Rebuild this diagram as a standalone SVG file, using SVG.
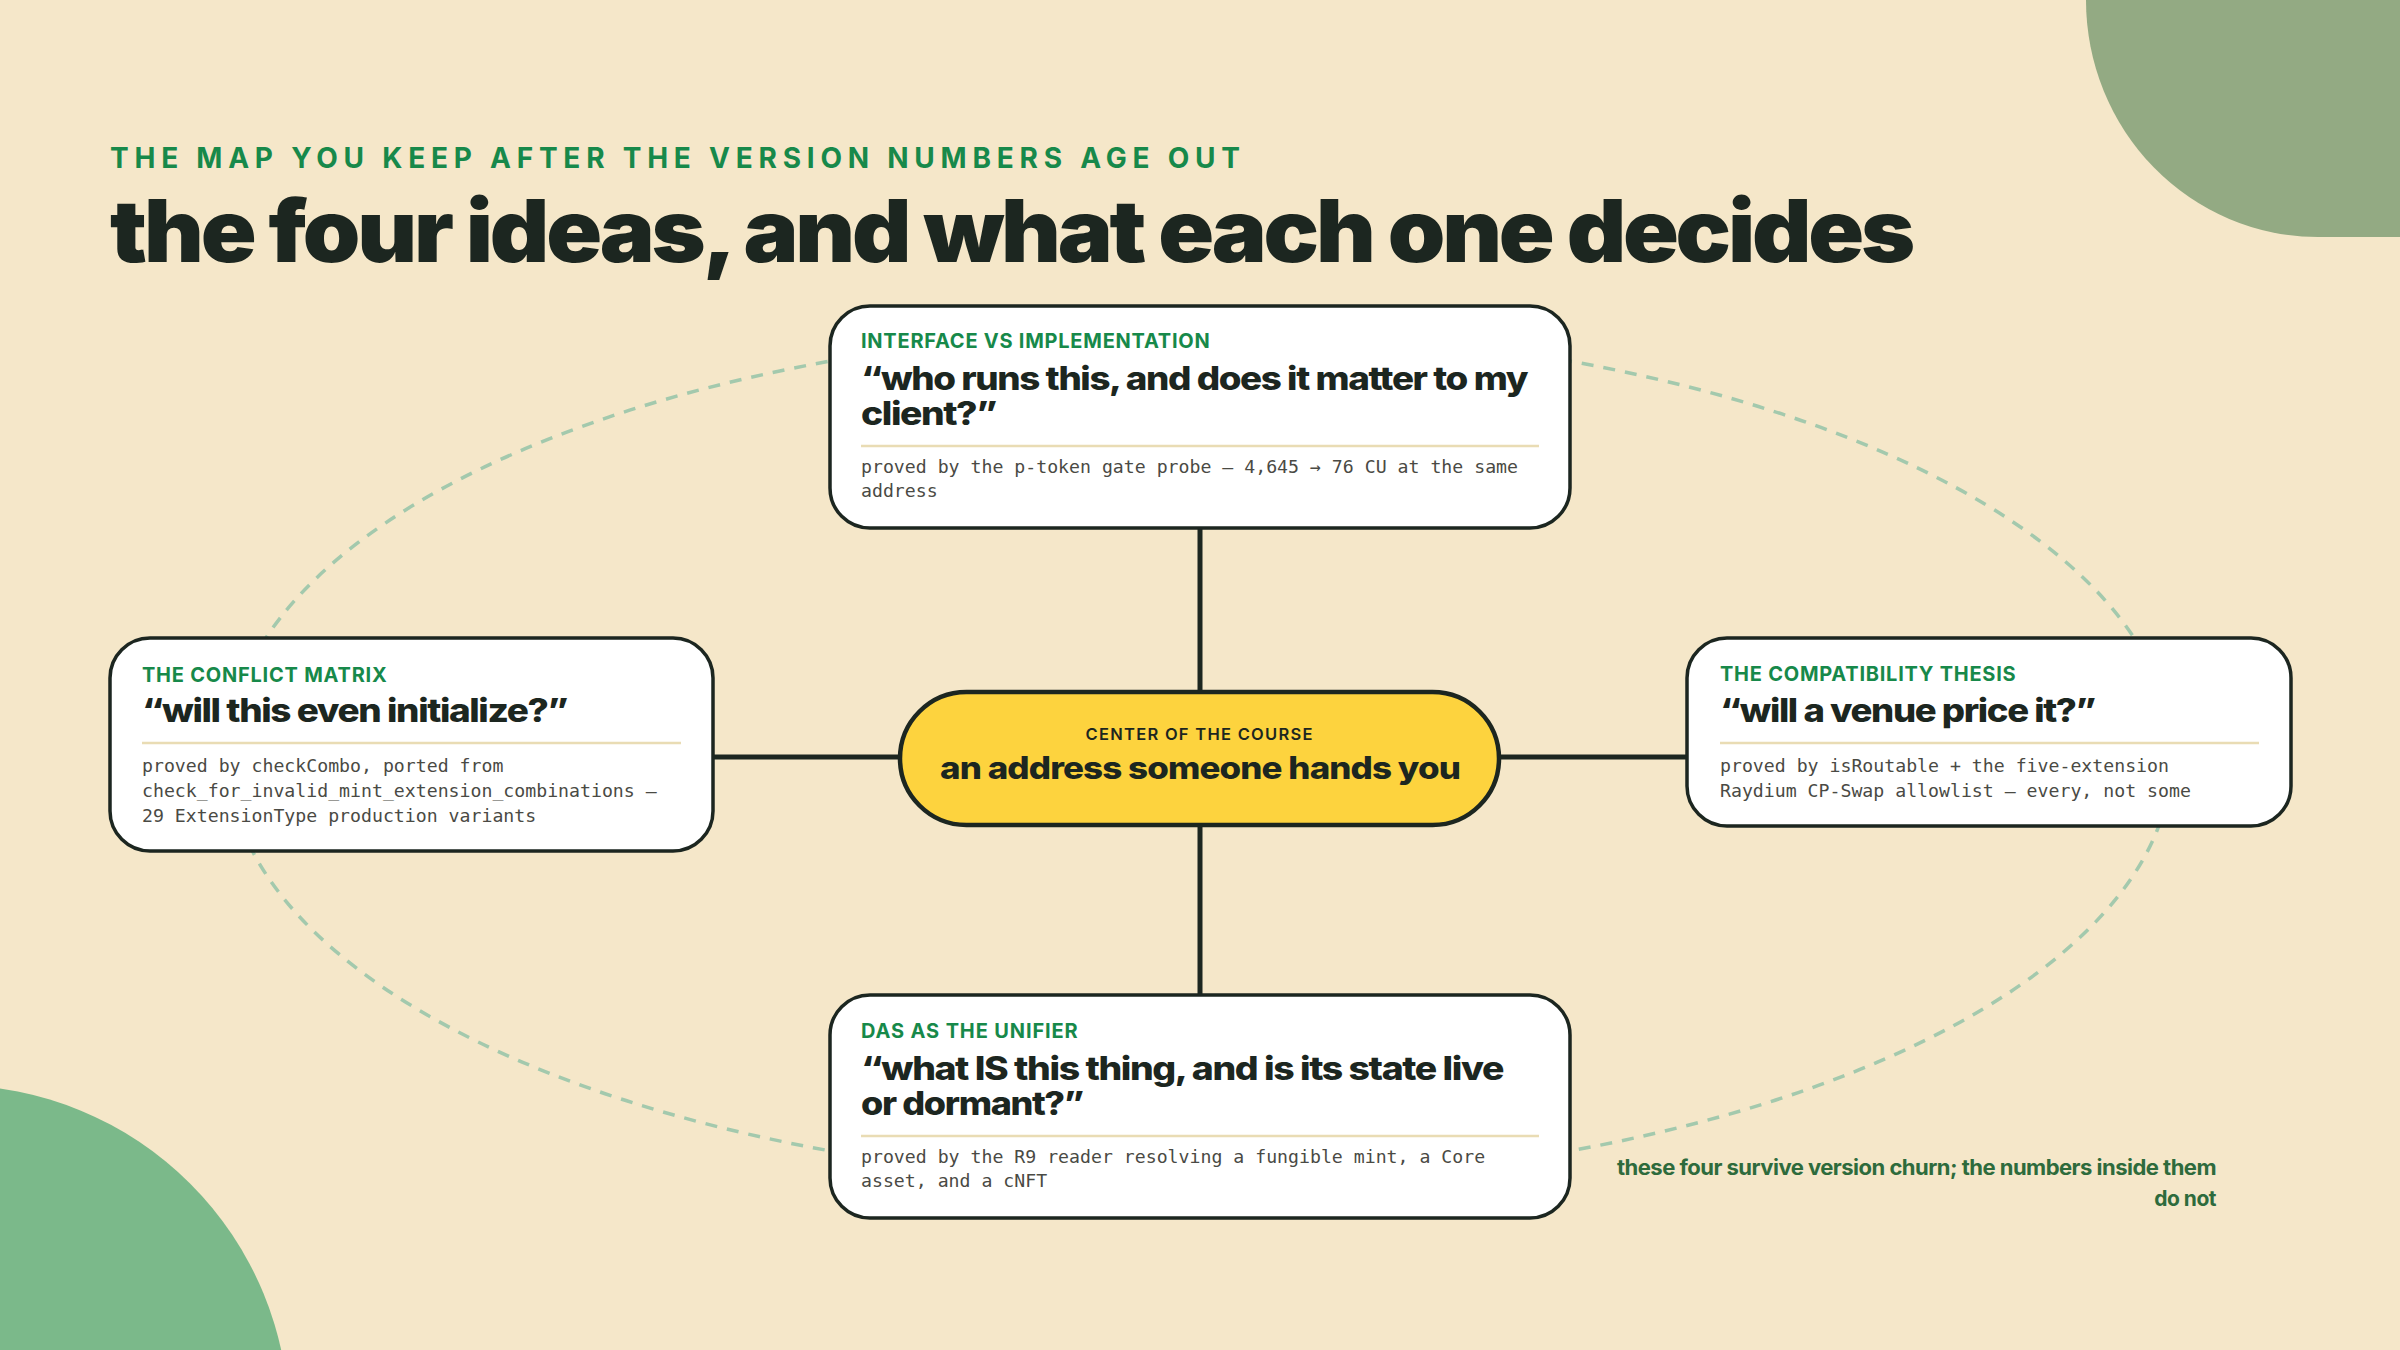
<svg xmlns="http://www.w3.org/2000/svg" width="2400" height="1350" viewBox="0 0 2400 1350">
<defs>
<style>
.bg{fill:#f5e7c9}
.node{fill:#ffffff;stroke:#1c2620;stroke-width:3.5}
.pill{fill:#fdd33e;stroke:#1c2620;stroke-width:4.5}
.conn{stroke:#1c2620;stroke-width:5;fill:none}
.orbit{fill:none;stroke:#a3c9ad;stroke-width:3.5;stroke-dasharray:12 10}
.div{stroke:#e9dcb4;stroke-width:2.5}
.lab{font-family:Inter,"Liberation Sans",sans-serif;font-weight:700;font-size:20px;fill:#17894a;letter-spacing:0.3px}
.q{font-family:Inter,"Liberation Sans",sans-serif;font-weight:800;font-size:32px;fill:#1c2620;letter-spacing:-1.2px}
.mono{font-family:"DejaVu Sans Mono","Liberation Mono",monospace;font-size:18.2px;fill:#4a4a44}
</style>
</defs>
<rect class="bg" x="0" y="0" width="2400" height="1350"/>
<path d="M2086,0 A232 237 0 0 0 2318,237 L2400,237 L2400,0 Z" fill="#93aa83"/>
<circle cx="-48" cy="1422" r="337" fill="#7bb98a"/>
<ellipse class="orbit" cx="1200" cy="756" rx="972" ry="427"/>

<text x="110" y="168" font-family="Inter,'Liberation Sans',sans-serif" font-weight="700" font-size="28" fill="#17894a" letter-spacing="4" textLength="1134">THE MAP YOU KEEP AFTER THE VERSION NUMBERS AGE OUT</text>
<text x="110" y="262" font-family="Inter,'Liberation Sans',sans-serif" font-weight="900" font-size="86" fill="#1c2620" letter-spacing="-3" textLength="1802" lengthAdjust="spacingAndGlyphs">the four ideas, and what each one decides</text>

<g id="connectors">
<line class="conn" x1="1200" y1="528" x2="1200" y2="692"/>
<line class="conn" x1="1200" y1="825" x2="1200" y2="995"/>
<line class="conn" x1="713" y1="757" x2="900" y2="757"/>
<line class="conn" x1="1499" y1="757" x2="1687" y2="757"/>
</g>

<g id="node-top">
<rect class="node" x="830" y="306" width="740" height="222" rx="40"/>
<text class="lab" x="861" y="348" textLength="349">INTERFACE VS IMPLEMENTATION</text>
<text class="q" x="861" y="390" textLength="666" lengthAdjust="spacingAndGlyphs">“who runs this, and does it matter to my</text>
<text class="q" x="861" y="425" textLength="135" lengthAdjust="spacingAndGlyphs">client?”</text>
<line class="div" x1="861" y1="446" x2="1539" y2="446"/>
<text class="mono" x="861" y="473">proved by the p-token gate probe — 4,645 → 76 CU at the same</text>
<text class="mono" x="861" y="497">address</text>
</g>

<g id="node-left">
<rect class="node" x="110" y="638" width="603" height="213" rx="40"/>
<text class="lab" x="142" y="682" textLength="245">THE CONFLICT MATRIX</text>
<text class="q" x="142" y="722" textLength="425" lengthAdjust="spacingAndGlyphs">“will this even initialize?”</text>
<line class="div" x1="142" y1="743" x2="681" y2="743"/>
<text class="mono" x="142" y="772">proved by checkCombo, ported from</text>
<text class="mono" x="142" y="797">check_for_invalid_mint_extension_combinations —</text>
<text class="mono" x="142" y="822">29 ExtensionType production variants</text>
</g>

<g id="node-right">
<rect class="node" x="1687" y="638" width="604" height="188" rx="40"/>
<text class="lab" x="1720" y="681" textLength="296">THE COMPATIBILITY THESIS</text>
<text class="q" x="1720" y="722" textLength="375" lengthAdjust="spacingAndGlyphs">“will a venue price it?”</text>
<line class="div" x1="1720" y1="743" x2="2259" y2="743"/>
<text class="mono" x="1720" y="772">proved by isRoutable + the five-extension</text>
<text class="mono" x="1720" y="797">Raydium CP-Swap allowlist — every, not some</text>
</g>

<g id="node-bottom">
<rect class="node" x="830" y="995" width="740" height="223" rx="40"/>
<text class="lab" x="861" y="1038" textLength="217">DAS AS THE UNIFIER</text>
<text class="q" x="861" y="1080" textLength="642" lengthAdjust="spacingAndGlyphs">“what IS this thing, and is its state live</text>
<text class="q" x="861" y="1115" textLength="222" lengthAdjust="spacingAndGlyphs">or dormant?”</text>
<line class="div" x1="861" y1="1136" x2="1539" y2="1136"/>
<text class="mono" x="861" y="1163">proved by the R9 reader resolving a fungible mint, a Core</text>
<text class="mono" x="861" y="1187">asset, and a cNFT</text>
</g>

<g id="node-center">
<rect class="pill" x="900" y="692" width="599" height="133" rx="66.5"/>
<text x="1200" y="740" text-anchor="middle" font-family="Inter,'Liberation Sans',sans-serif" font-weight="600" font-size="16.5" fill="#1c2620" letter-spacing="2" textLength="229">CENTER OF THE COURSE</text>
<text x="1200" y="779" text-anchor="middle" font-family="Inter,'Liberation Sans',sans-serif" font-weight="800" font-size="31" fill="#1c2620" letter-spacing="-0.8" textLength="520" lengthAdjust="spacingAndGlyphs">an address someone hands you</text>
</g>

<g id="footnote">
<text x="2216" y="1175" text-anchor="end" font-family="Inter,'Liberation Sans',sans-serif" font-weight="700" font-size="21" fill="#2e6b3c" letter-spacing="-0.5" textLength="599" lengthAdjust="spacingAndGlyphs">these four survive version churn; the numbers inside them</text>
<text x="2216" y="1206" text-anchor="end" font-family="Inter,'Liberation Sans',sans-serif" font-weight="700" font-size="21" fill="#2e6b3c" letter-spacing="-0.5">do not</text>
</g>
</svg>
